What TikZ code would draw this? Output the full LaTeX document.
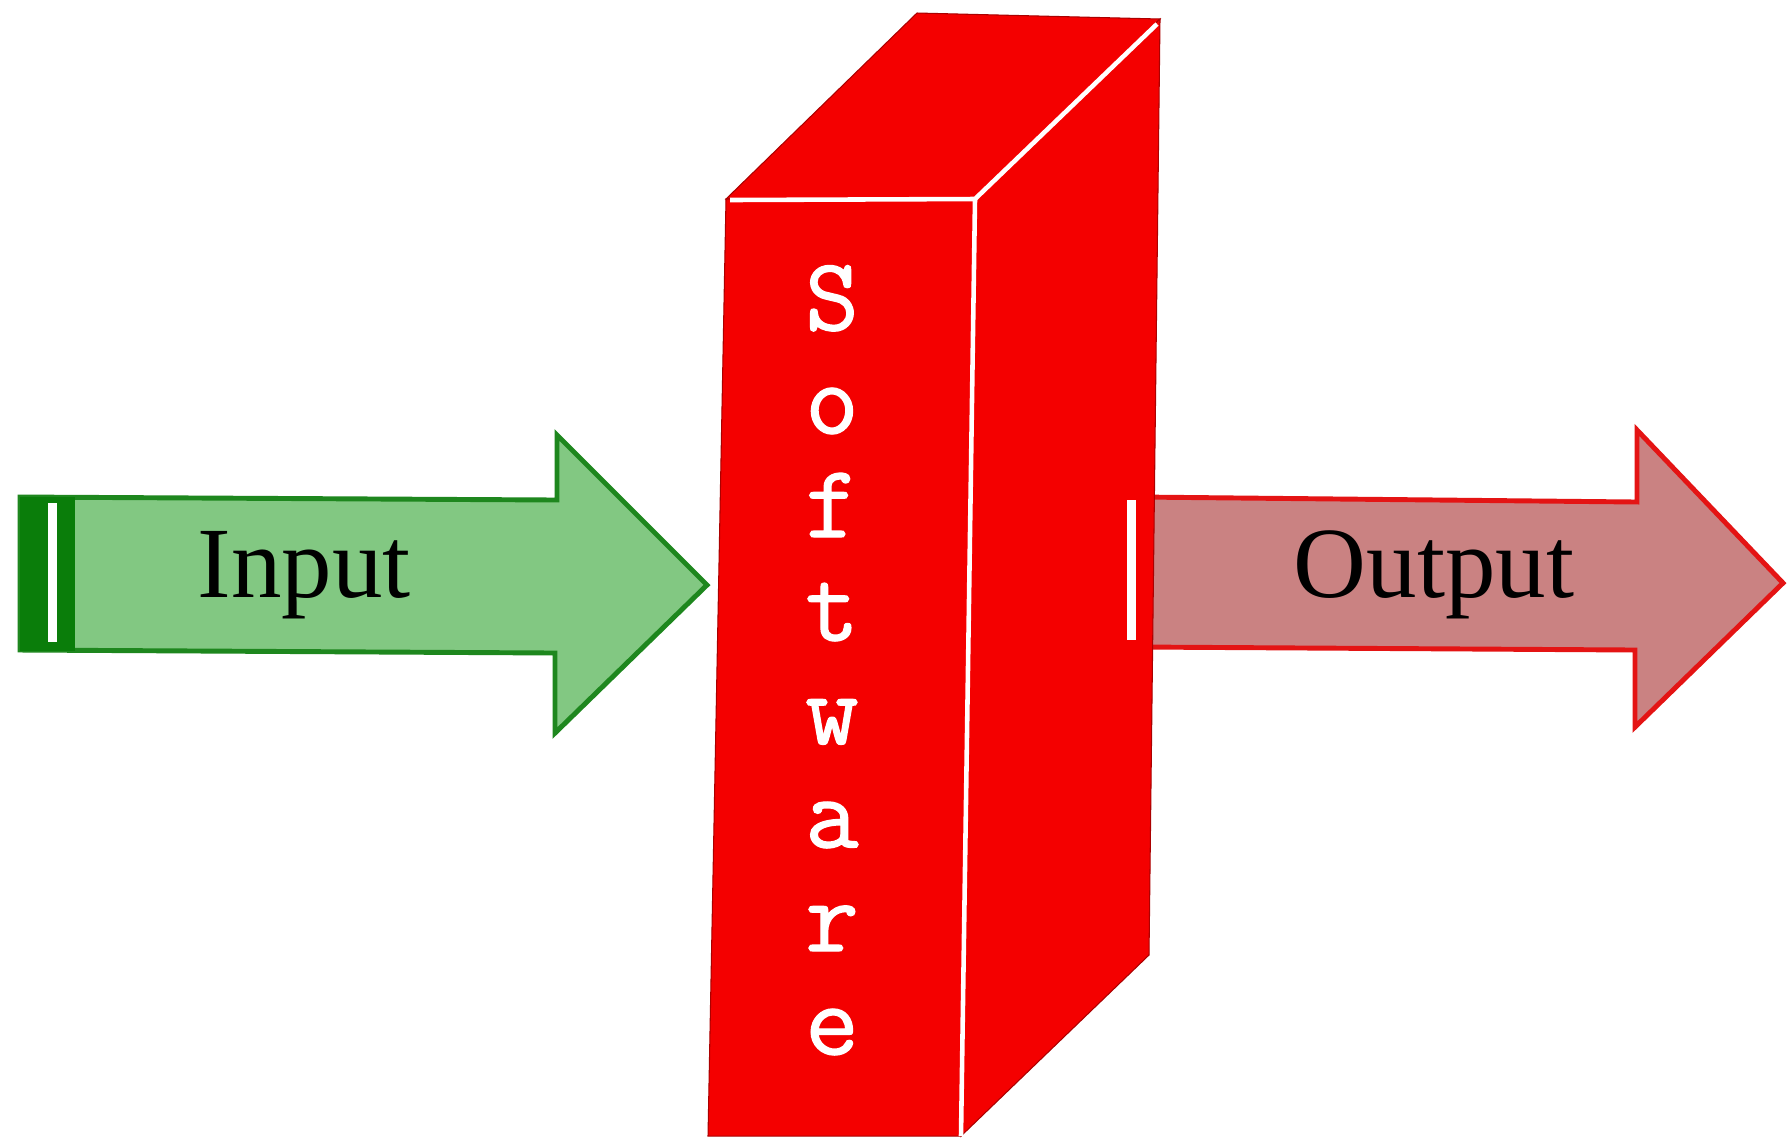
\documentclass[tikz,border=0pt]{standalone}
\usepackage{fontspec}
\setmainfont{Liberation Serif}
\newfontfamily\boxfont{Latin Modern Mono}[FakeBold=1.2]
\definecolor{boxred}{RGB}{244,0,0}
\definecolor{ingreen}{RGB}{130,200,130}
\definecolor{inedge}{RGB}{30,135,30}
\definecolor{inband}{RGB}{10,125,10}
\definecolor{outpink}{RGB}{202,130,130}
\definecolor{outedge}{RGB}{228,20,20}
\tikzset{
  inarrow/.style={fill=ingreen, draw=inedge, line width=1.4pt, line join=miter},
  outarrow/.style={fill=outpink, draw=outedge, line width=1.4pt, line join=miter},
  face/.style={fill=boxred, draw=boxred!70!black, line width=0.3pt},
  edge/.style={draw=white, line width=1.3pt},
  label/.style={font=\fontsize{28.7}{30}\selectfont, text=black, inner sep=0pt, anchor=base west},
  letter/.style={font=\boxfont\fontsize{29.5}{32}\selectfont, text=white, inner sep=0pt, anchor=base}
}
\begin{document}
\begin{tikzpicture}[x=0.01cm, y=-0.01cm]
  \useasboundingbox (0,0) rectangle (1788,1141);
  \fill[white] (0,0) rectangle (1788,1141);

  % input arrow
  \draw[inarrow] (20,497) -- (557,500) -- (557,435) -- (707,585)
                 -- (555,733) -- (555,653) -- (20,650) -- cycle;
  \fill[inband] (20,497) rectangle (75,651);
  \fill[white] (48,503) rectangle (57,642);
  \node[label] (input) at (197,597) {Input};

  % output arrow, its tail hidden behind the block
  \draw[outarrow] (1140,497) -- (1637,502) -- (1637,430) -- (1783,583)
                  -- (1635,727) -- (1635,650) -- (1140,647) -- cycle;
  \node[label] (output) at (1293,597) {Output};

  % the software block
  \coordinate (ftl) at (726,199);
  \coordinate (ftr) at (975,199);
  \coordinate (fbr) at (961,1136);
  \coordinate (fbl) at (708,1136);
  \coordinate (btl) at (917,13);
  \coordinate (btr) at (1160,19);
  \coordinate (bbr) at (1149,955);
  \path[face] (ftl) -- (btl) -- (btr) -- (ftr) -- cycle;
  \path[face] (ftr) -- (btr) -- (bbr) -- (fbr) -- cycle;
  \path[face] (ftl) -- (ftr) -- (fbr) -- (fbl) -- cycle;
  \draw[edge] (730,200) -- (ftr) -- (1157,24);
  \draw[edge] (ftr) -- (fbr);
  \fill[white] (1127,500) rectangle (1136,640);

  % vertical lettering
  \foreach \ch [count=\i from 0] in {S,o,f,t,w,a,r,e} {
    \node[letter] (soft\i) at (832,330+103.5*\i) {\ch};
  }
\end{tikzpicture}
\end{document}
